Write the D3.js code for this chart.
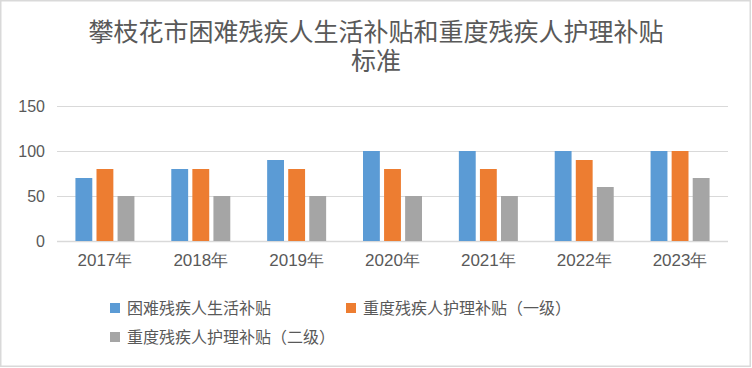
<!DOCTYPE html>
<html>
<head>
<meta charset="utf-8">
<script src="https://cdn.jsdelivr.net/npm/d3@7"></script>
<style>
  body { margin: 0; background: #fff; }
  svg { display: block; font-family: "Noto Sans CJK SC", "Noto Sans", sans-serif; }
</style>
</head>
<body>
<svg id="chart"></svg>
<script>
// data
const years = ["2017年", "2018年", "2019年", "2020年", "2021年", "2022年", "2023年"];
const seriesNames = ["困难残疾人生活补贴", "重度残疾人护理补贴（一级）", "重度残疾人护理补贴（二级）"];
const living = [70, 80, 90, 100, 100, 100, 100];
const careLevel1 = [80, 80, 80, 80, 80, 90, 100];
const careLevel2 = [50, 50, 50, 50, 50, 60, 70];
const yTicks = [0, 50, 100, 150];
const colors = ["#5B9BD5", "#ED7D31", "#A5A5A5"];

const width = 752, height = 368;
const textColor = "#595959";
const gridColor = "#D9D9D9";

const svg = d3.select("#chart").attr("width", width).attr("height", height);

// outer frame
svg.append("rect")
  .attr("x", 0.75).attr("y", 0.75)
  .attr("width", 749.5).attr("height", 365.5)
  .attr("fill", "#fff")
  .attr("stroke", gridColor)
  .attr("stroke-width", 1.5);

// title, two lines
svg.append("text")
  .attr("x", 376).attr("y", 41)
  .attr("text-anchor", "middle")
  .attr("fill", textColor)
  .style("font-size", "25px")
  .text("攀枝花市困难残疾人生活补贴和重度残疾人护理补贴");
svg.append("text")
  .attr("x", 376).attr("y", 70)
  .attr("text-anchor", "middle")
  .attr("fill", textColor)
  .style("font-size", "25px")
  .text("标准");

const x = d3.scaleBand().domain(years).range([57, 728]);
const y = d3.scaleLinear().domain([0, 150]).range([241, 106]);
const xs = d3.scaleBand().domain(d3.range(3)).range([-29.5, 29.5]).paddingInner(0.2);

// gridlines
svg.append("g")
  .selectAll("line")
  .data(yTicks)
  .enter().append("line")
    .attr("x1", 57).attr("x2", 728)
    .attr("y1", d => Math.round(y(d)) + 0.5)
    .attr("y2", d => Math.round(y(d)) + 0.5)
    .attr("stroke", gridColor)
    .attr("stroke-width", d => d === 0 ? 1.5 : 1.2);

// y axis labels
svg.append("g")
  .attr("transform", "translate(45,0)")
  .call(d3.axisLeft(y).tickValues(yTicks).tickSize(0).tickPadding(0))
  .call(g => g.select(".domain").remove())
  .selectAll("text")
    .attr("fill", textColor)
    .style("font-size", "16px");

// x axis labels
svg.append("g")
  .attr("transform", "translate(0,253)")
  .call(d3.axisBottom(x).tickSize(0).tickPadding(0))
  .call(g => g.select(".domain").remove())
  .selectAll("text")
    .attr("fill", textColor)
    .attr("dy", "0.75em")
    .style("font-size", "17px");

// bars
const allSeries = [living, careLevel1, careLevel2];
const groups = svg.append("g")
  .selectAll("g")
  .data(years)
  .enter().append("g")
    .attr("transform", d => "translate(" + (x(d) + x.bandwidth() / 2) + ",0)");

groups.selectAll("rect")
  .data((d, i) => allSeries.map((s, k) => ({ k: k, v: s[i] })))
  .enter().append("rect")
    .attr("x", d => xs(d.k))
    .attr("width", xs.bandwidth())
    .attr("y", d => y(d.v))
    .attr("height", d => y(0) - y(d.v))
    .attr("fill", d => colors[d.k]);

// legend
const legendPos = [[110, 308], [346, 308], [110, 337]];
const legend = svg.append("g")
  .selectAll("g")
  .data(seriesNames)
  .enter().append("g")
    .attr("transform", (d, i) => "translate(" + legendPos[i][0] + "," + legendPos[i][1] + ")");

legend.append("rect")
  .attr("x", 0).attr("y", -5)
  .attr("width", 10).attr("height", 10)
  .attr("fill", (d, i) => colors[i]);

legend.append("text")
  .attr("x", 17)
  .attr("dy", "0.35em")
  .attr("fill", textColor)
  .style("font-size", "16px")
  .text(d => d);
</script>
</body>
</html>
